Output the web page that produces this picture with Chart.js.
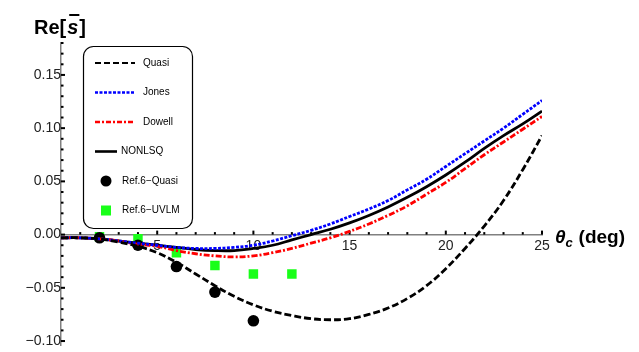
<!DOCTYPE html>
<html>
<head>
<meta charset="utf-8">
<script src="https://cdn.jsdelivr.net/npm/chart.js@4/dist/chart.umd.min.js"></script>
<style>
  html, body { margin: 0; padding: 0; background: #fff; }
  #wrap { width: 639px; height: 352px; position: relative; }
</style>
</head>
<body>
<div id="wrap"><canvas id="plot"></canvas></div>
<script>
// theta_c in degrees, one sample per degree for the model curves
var theta = [0,1,2,3,4,5,6,7,8,9,10,11,12,13,14,15,16,17,18,19,20,21,22,23,24,25];
var quasi = [-0.003,-0.003,-0.004,-0.007,-0.011,-0.017,-0.026,-0.037,-0.048,-0.058,-0.066,-0.072,-0.076,-0.079,-0.080,-0.079,-0.075,-0.069,-0.060,-0.048,-0.032,-0.013,0.008,0.032,0.061,0.093];
var jones = [-0.003,-0.003,-0.004,-0.006,-0.008,-0.010,-0.012,-0.013,-0.013,-0.012,-0.010,-0.006,-0.001,0.004,0.010,0.017,0.024,0.032,0.042,0.052,0.064,0.076,0.088,0.100,0.113,0.126];
var dowell = [-0.003,-0.003,-0.004,-0.006,-0.009,-0.011,-0.015,-0.018,-0.020,-0.021,-0.020,-0.017,-0.013,-0.008,-0.003,0.003,0.010,0.018,0.027,0.038,0.049,0.062,0.075,0.087,0.099,0.111];
var nonlsq = [-0.003,-0.003,-0.004,-0.006,-0.008,-0.010,-0.012,-0.014,-0.015,-0.015,-0.013,-0.010,-0.005,0.000,0.005,0.011,0.018,0.026,0.035,0.045,0.056,0.068,0.081,0.093,0.104,0.116];

// Ref. 6 results
var refTheta = [2,4,6,8,10];
var refQuasi = [-0.003,-0.010,-0.030,-0.054,-0.081];
var uvlmTheta = [2,4,6,8,10,12];
var refUvlm = [-0.002,-0.004,-0.017,-0.029,-0.037,-0.037];

var xTicks = [5,10,15,20,25];
var yTicks = [-0.10,-0.05,0.00,0.05,0.10,0.15];

var FONT = '"Liberation Sans", Arial, sans-serif';

function pts(xs, ys) {
    return xs.map(function(x, i) { return { x: x, y: ys[i] }; });
}

function lineSet(label, ys, color, dash) {
    return {
        type: 'line', label: label, data: pts(theta, ys),
        borderColor: color, borderWidth: 2.8, borderDash: dash,
        pointRadius: 0, fill: false, tension: 0.4
    };
}

var legendItems = [
    { text: 'Quasi', kind: 'line', color: '#000', dash: [6, 3], w: 2, x0: 95, x1: 135 },
    { text: 'Jones', kind: 'line', color: '#0000ff', dash: [3, 1.5], w: 2.6, x0: 95, x1: 135 },
    { text: 'Dowell', kind: 'line', color: '#ff0000', dash: [5, 2, 2, 2], w: 2.6, x0: 95, x1: 135 },
    { text: 'NONLSQ', kind: 'line', color: '#000', dash: [], w: 2.6, x0: 95, x1: 117 },
    { text: 'Ref.6\u2212Quasi', kind: 'dot' },
    { text: 'Ref.6\u2212UVLM', kind: 'square' }
];

// axes sit inside the plot: keep their label overhang out of the layout
function noPadding(s) {
    s.paddingTop = 0;
    s.paddingBottom = 0;
    s.paddingLeft = 0;
    s.paddingRight = 0;
}

// axis ticks on the inner side, boxed legend and the axis titles
var decor = {
    id: 'decor',
    beforeDatasetsDraw: function(chart) {
        var ctx = chart.ctx, xs = chart.scales.x, ys = chart.scales.y;
        var x0 = xs.getPixelForValue(0), y0 = ys.getPixelForValue(0);
        ctx.save();
        ctx.fillStyle = '#000';
        for (var t = 1; t <= 25; t++) {
            var px = xs.getPixelForValue(t);
            if (t % 5 === 0) ctx.fillRect(px - 1, y0 - 4, 2, 4);
            else ctx.fillRect(px - 1, y0 - 2.5, 2, 2.5);
        }
        for (var k = -10; k <= 18; k++) {
            var py = ys.getPixelForValue(k / 100);
            if (k % 5 === 0) ctx.fillRect(x0, py - 1, 4, 2);
            else ctx.fillRect(x0, py - 1, 2.5, 2);
        }
        ctx.restore();
    },
    afterDraw: function(chart) {
        var ctx = chart.ctx;
        ctx.save();
        // legend box
        ctx.fillStyle = '#fff';
        ctx.strokeStyle = '#000';
        ctx.lineWidth = 1.2;
        ctx.beginPath();
        ctx.roundRect(83.5, 46.5, 109, 182, 10);
        ctx.fill();
        ctx.stroke();
        ctx.font = '10px ' + FONT;
        ctx.textBaseline = 'middle';
        legendItems.forEach(function(it, i) {
            var y = 63 + i * 29.5;
            var tx = 143;
            if (it.kind === 'line') {
                ctx.strokeStyle = it.color;
                ctx.lineWidth = it.w;
                ctx.setLineDash(it.dash);
                ctx.beginPath();
                ctx.moveTo(it.x0, y);
                ctx.lineTo(it.x1, y);
                ctx.stroke();
                ctx.setLineDash([]);
                if (it.x1 < 130) tx = 121;
            } else if (it.kind === 'dot') {
                ctx.fillStyle = '#000';
                ctx.beginPath();
                ctx.arc(106, y, 5.5, 0, Math.PI * 2);
                ctx.fill();
                tx = 122;
            } else {
                ctx.fillStyle = '#19ff19';
                ctx.fillRect(101, y - 5, 10, 10);
                tx = 122;
            }
            ctx.fillStyle = '#000';
            ctx.fillText(it.text, tx, y);
        });

        // y title: Re[s̄]
        var xs = chart.scales.x, ys = chart.scales.y;
        ctx.fillStyle = '#000';
        ctx.textBaseline = 'alphabetic';
        ctx.font = 'bold 20px ' + FONT;
        var bx = 34, by = 34;
        ctx.fillText('Re[', bx, by);
        var w1 = ctx.measureText('Re[').width;
        ctx.font = 'bold italic 20px ' + FONT;
        ctx.fillText('s', bx + w1 + 1, by);
        var w2 = ctx.measureText('s').width;
        ctx.fillRect(bx + w1 + 3, by - 20, w2 - 1, 2);
        ctx.font = 'bold 20px ' + FONT;
        ctx.fillText(']', bx + w1 + w2 + 2, by);

        // x title: θc (deg)
        var tx0 = xs.getPixelForValue(25) + 13, ty = ys.getPixelForValue(0) + 8;
        ctx.font = 'bold italic 19px ' + FONT;
        ctx.fillText('\u03b8', tx0, ty);
        var wt = ctx.measureText('\u03b8').width;
        ctx.font = 'bold italic 13px ' + FONT;
        ctx.fillText('c', tx0 + wt, ty + 4);
        ctx.font = 'bold 19px ' + FONT;
        ctx.fillText('(deg)', tx0 + wt + 13, ty);
        ctx.restore();
    }
};

new Chart(document.getElementById('plot'), {
    data: {
        datasets: [
            lineSet('Quasi', quasi, '#000', [7, 3]),
            lineSet('Jones', jones, '#0000ff', [3, 1.5]),
            lineSet('Dowell', dowell, '#ff0000', [6, 2, 2, 2]),
            lineSet('NONLSQ', nonlsq, '#000', []),
            {
                type: 'scatter', label: 'Ref.6-Quasi', data: pts(refTheta, refQuasi),
                pointStyle: 'circle', pointRadius: 5.8, backgroundColor: '#000', borderWidth: 0
            },
            {
                type: 'scatter', label: 'Ref.6-UVLM', data: pts(uvlmTheta, refUvlm),
                pointStyle: 'rect', pointRadius: 6.7, backgroundColor: '#19ff19', borderWidth: 0
            }
        ]
    },
    options: {
        responsive: true,
        maintainAspectRatio: false,
        animation: false,
        layout: { padding: { left: 61, right: 97, top: 43, bottom: 5 } },
        plugins: { legend: { display: false }, tooltip: { enabled: false } },
        scales: {
            x: {
                type: 'linear', min: 0, max: 25,
                position: { y: 0 },
                grid: { display: false, drawTicks: false },
                border: { display: true, color: '#808080', width: 1.5 },
                afterBuildTicks: function(s) { s.ticks = xTicks.map(function(v) { return { value: v }; }); },
                afterFit: noPadding,
                ticks: {
                    color: '#222', padding: 3, maxRotation: 0,
                    font: { family: FONT, size: 14 },
                    callback: function(v) { return String(v); }
                }
            },
            y: {
                type: 'linear', min: -0.104, max: 0.18,
                position: { x: 0 },
                grid: { display: false, drawTicks: false },
                border: { display: true, color: '#808080', width: 1.5 },
                afterBuildTicks: function(s) { s.ticks = yTicks.map(function(v) { return { value: v }; }); },
                afterFit: noPadding,
                ticks: {
                    color: '#222', padding: 6,
                    font: { family: FONT, size: 14 },
                    callback: function(v) { return (v < 0 ? '\u2212' : '') + Math.abs(v).toFixed(2); }
                }
            }
        }
    },
    plugins: [decor]
});
</script>
</body>
</html>
